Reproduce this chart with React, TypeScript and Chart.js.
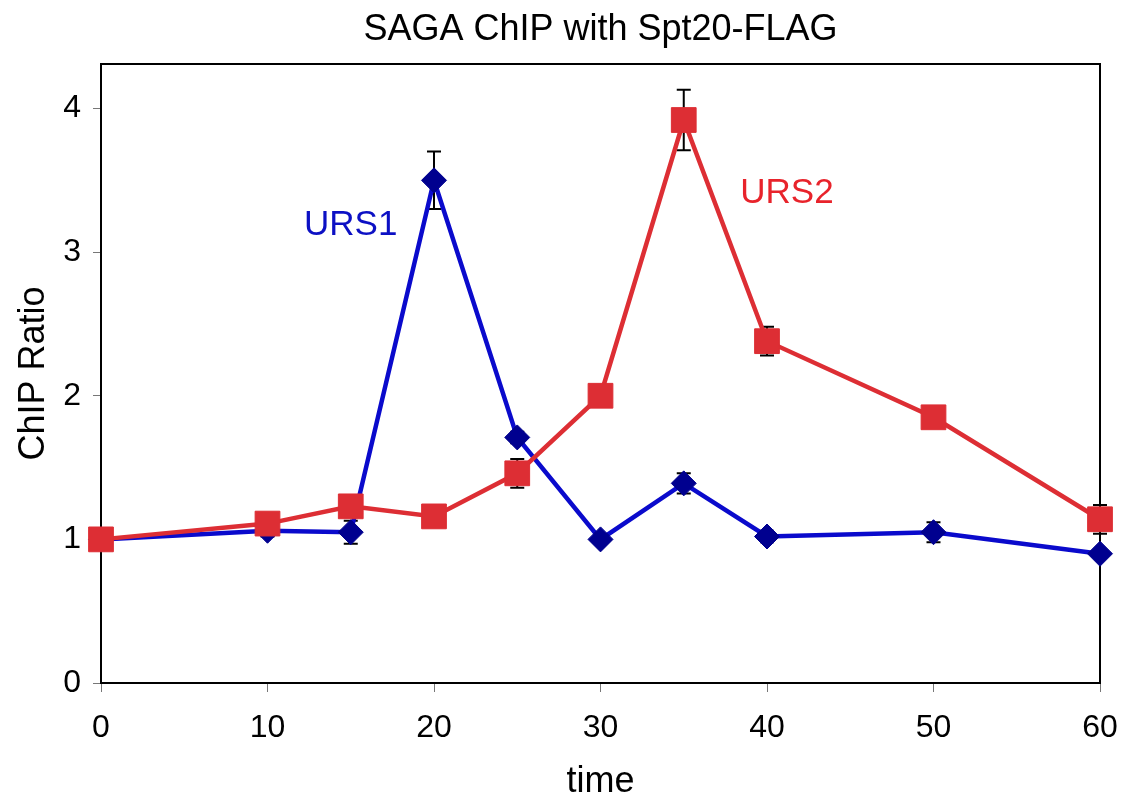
import React, { useEffect, useRef } from "react";
import { Chart, registerables } from "chart.js";

Chart.register(...registerables);

const times = [0, 10, 15, 20, 25, 30, 35, 40, 50, 60];
const urs1 = [1.0, 1.06, 1.05, 3.5, 1.71, 1.0, 1.39, 1.02, 1.05, 0.9];
const urs1Err = [0, 0.04, 0.08, 0.2, 0.04, 0, 0.07, 0.04, 0.07, 0];
const urs2 = [1.0, 1.11, 1.23, 1.16, 1.46, 2.0, 3.92, 2.38, 1.85, 1.14];
const urs2Err = [0, 0.03, 0.03, 0.03, 0.1, 0.03, 0.21, 0.1, 0.03, 0.1];
const yTicks = [0, 1, 2, 3, 4];
const titleText = "SAGA ChIP with Spt20-FLAG";
const labels = [
  { text: "URS1", x: 15, y: 3.19, color: "#0C10C4" },
  { text: "URS2", x: 41.2, y: 3.41, color: "#E8232B" },
];

const FONT = "'Liberation Sans', Arial, sans-serif";

export default function App() {
  const ref = useRef<HTMLCanvasElement>(null);
  useEffect(() => {
    document.body.style.margin = "0";
    const errPlugin = {
      id: "errbars",
      beforeDatasetsDraw(chart: any) {
        const { ctx, chartArea, scales } = chart;
        ctx.save();
        ctx.strokeStyle = "#000";
        ctx.lineWidth = 2;
        ctx.strokeRect(chartArea.left, chartArea.top, chartArea.right - chartArea.left, chartArea.bottom - chartArea.top);
        const drawSet = (vals: number[], errs: number[]) => {
          vals.forEach((v, i) => {
            const e = errs[i];
            if (!e) return;
            const x = scales.x.getPixelForValue(times[i]);
            const y1 = scales.y.getPixelForValue(v + e);
            const y2 = scales.y.getPixelForValue(v - e);
            ctx.beginPath();
            ctx.moveTo(x, y1);
            ctx.lineTo(x, y2);
            ctx.moveTo(x - 7, y1);
            ctx.lineTo(x + 7, y1);
            ctx.moveTo(x - 7, y2);
            ctx.lineTo(x + 7, y2);
            ctx.stroke();
          });
        };
        drawSet(urs1, urs1Err);
        drawSet(urs2, urs2Err);
        ctx.restore();
      },
      afterDatasetsDraw(chart: any) {
        const { ctx, scales, chartArea } = chart;
        ctx.save();
        ctx.font = `35px ${FONT}`;
        ctx.textAlign = "center";
        ctx.textBaseline = "middle";
        labels.forEach((l) => {
          ctx.fillStyle = l.color;
          ctx.fillText(l.text, scales.x.getPixelForValue(l.x), scales.y.getPixelForValue(l.y));
        });
        ctx.fillStyle = "#000";
        ctx.font = `36px ${FONT}`;
        ctx.fillText(titleText, (chartArea.left + chartArea.right) / 2, 30);
        ctx.restore();
      },
    };
    const chart = new Chart(ref.current!, {
      type: "line",
      data: {
        datasets: [
          {
            label: "URS2",
            data: times.map((t, i) => ({ x: t, y: urs2[i] })),
            borderColor: "#DD2E34",
            backgroundColor: "#DD2E34",
            borderWidth: 4.5,
            pointStyle: "rect",
            pointRadius: 17.5,
            pointBorderWidth: 1,
            pointBorderColor: "#DD2E34",
            pointBackgroundColor: "#DD2E34",
            order: 0,
            clip: false,
          },
          {
            label: "URS1",
            data: times.map((t, i) => ({ x: t, y: urs1[i] })),
            borderColor: "#0A0ACC",
            backgroundColor: "#00008F",
            borderWidth: 4.5,
            pointStyle: "rectRot",
            pointRadius: 12.5,
            pointBorderWidth: 1,
            pointBorderColor: "#00008F",
            pointBackgroundColor: "#00008F",
            order: 1,
            clip: false,
          },
        ],
      },
      options: {
        animation: false,
        responsive: false,
        layout: { padding: { left: 0, right: 25, top: 64, bottom: 0 } },
        plugins: {
          legend: { display: false },
          tooltip: { enabled: false },
          title: { display: false },
        },
        scales: {
          x: {
            type: "linear",
            min: 0,
            max: 60,
            afterFit: (s: any) => { s.height = 118; s.paddingRight = 0; s.paddingLeft = 0; },
            ticks: { stepSize: 10, color: "#000", font: { family: FONT, size: 32 }, padding: 17 },
            grid: { display: true, drawOnChartArea: false, tickLength: 9, color: "#777", tickWidth: 1 },
            border: { display: true, color: "#000", width: 2 },
            title: { display: true, text: "time", color: "#000", font: { family: FONT, size: 36 }, padding: { top: 0, bottom: -3 } },
          },
          y: {
            type: "linear",
            min: 0,
            max: 4.31,
            afterFit: (s: any) => { s.width = 101; },
            afterBuildTicks: (s: any) => { s.ticks = yTicks.map((v) => ({ value: v })); },
            ticks: { color: "#000", font: { family: FONT, size: 32 }, padding: 12 },
            grid: { display: true, drawOnChartArea: false, tickLength: 8, color: "#777", tickWidth: 1 },
            border: { display: true, color: "#000", width: 2 },
            title: { display: true, text: "ChIP Ratio", color: "#000", font: { family: FONT, size: 36 }, padding: { top: 12, bottom: 0 } },
          },
        },
      },
      plugins: [errPlugin],
    } as any);
    return () => chart.destroy();
  }, []);
  return (
    <div style={{ width: 1125, height: 801, background: "#fff" }}>
      <canvas ref={ref} width={1125} height={801} />
    </div>
  );
}
